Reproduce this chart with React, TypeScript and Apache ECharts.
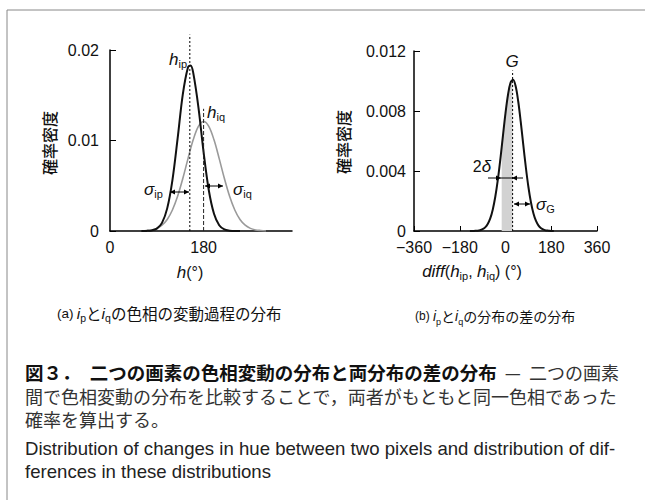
import React, { useEffect, useRef } from "react";
import * as echarts from "echarts";

// ---- data ----
const hueXP = [60, 70, 80, 90, 100, 110, 120, 130, 140, 150, 155, 160, 170, 180, 190, 200, 210, 220, 230, 240, 250];
const densityP = [0, 0.00001, 0.00006, 0.00026, 0.0009, 0.0025, 0.0056, 0.0102, 0.0151, 0.0181, 0.0183, 0.0175, 0.0137, 0.0087, 0.0045, 0.0019, 0.00064, 0.00017, 0.00004, 0, 0];
const hueXQ = [60, 70, 80, 90, 100, 110, 120, 130, 140, 150, 160, 170, 180, 190, 200, 210, 220, 230, 240, 250, 260, 270, 280, 290, 300];
const densityQ = [0, 0.00005, 0.00012, 0.00029, 0.00064, 0.00127, 0.00232, 0.00384, 0.0058, 0.008, 0.01007, 0.01156, 0.0121, 0.01156, 0.01007, 0.008, 0.0058, 0.00384, 0.00232, 0.00127, 0.00064, 0.00029, 0.00012, 0.00005, 0];
const diffX = [-140, -130, -120, -110, -100, -90, -80, -70, -60, -50, -40, -30, -20, -10, 0, 10, 20, 30, 40, 50, 60, 70, 80, 90, 100, 110, 120, 130, 140, 150, 160, 170, 180, 190];
const densityG = [0, 0, 0.00001, 0.00002, 0.00005, 0.00012, 0.00024, 0.00047, 0.00084, 0.00144, 0.0023, 0.00344, 0.00483, 0.00636, 0.00786, 0.0091, 0.0099, 0.01009, 0.00965, 0.00865, 0.00728, 0.00574, 0.00425, 0.00295, 0.00192, 0.00117, 0.00067, 0.00036, 0.00018, 0.00009, 0.00004, 0.00002, 0, 0];
const bandX = [-15, -10, 0, 10, 20, 28];
const bandY = [0.00558, 0.00636, 0.00786, 0.0091, 0.0099, 0.0101];
const peakP = 153.5;
const peakQ = 180;
const peakG = 28;
const peakLineTop = [0.0217, 0.0135, 0.0107];
const leftXTicks = [0, 180];
const leftYTicks = [0, 0.01, 0.02];
const rightXTicks = [-360, -180, 0, 180, 360];
const rightYTicks = [0, 0.004, 0.008, 0.012];

const FONT = '"Liberation Sans", Arial, sans-serif';
const CJK = '"Noto Sans CJK JP", sans-serif';

const zip = (xs: number[], ys: number[]) => xs.map((x, i) => [x, ys[i]]);

function hline(x1: number, x2: number, y: number) {
  return { type: "line", shape: { x1, y1: y, x2, y2: y }, style: { stroke: "#000", lineWidth: 1 }, z: 10 };
}
function head(tipX: number, y: number, dir: number) {
  return {
    type: "polygon",
    shape: { points: [[tipX, y], [tipX - dir * 5, y - 2.5], [tipX - dir * 5, y + 2.5]] },
    style: { fill: "#000" },
    z: 10,
  };
}
function rt(x: number, y: number, text: string, align = "left", cjkSize = 14) {
  return {
    type: "text",
    x,
    y,
    z: 10,
    style: {
      text,
      align,
      verticalAlign: "middle",
      fill: "#111",
      rich: {
        i: { fontStyle: "italic", fontSize: 17, fontFamily: FONT, lineHeight: 20, fill: "#111" },
        n: { fontSize: 16, fontFamily: FONT, lineHeight: 20, fill: "#111" },
        s: { fontSize: 11, fontFamily: FONT, lineHeight: 10, verticalAlign: "bottom", fill: "#111" },
        c: { fontSize: cjkSize, fontFamily: CJK, lineHeight: 20, fill: "#111" },
        p: { fontSize: cjkSize - 2, fontFamily: FONT, lineHeight: 20, fill: "#111" },
        ci: { fontSize: cjkSize, fontStyle: "italic", fontFamily: FONT, lineHeight: 20, fill: "#111" },
        cs: { fontSize: cjkSize - 5, fontFamily: FONT, lineHeight: 8, verticalAlign: "bottom", fill: "#111" },
      },
    },
  };
}
function bodyLine(y: number, text: string) {
  return {
    type: "text", x: 25, y,
    style: {
      text, verticalAlign: "middle",
      rich: {
        b: { fontSize: 18.5, lineHeight: 20, fontWeight: "bold", fontFamily: CJK, fill: "#111" },
        n: { fontSize: 18, lineHeight: 20, fontFamily: CJK, fill: "#333" },
      },
    },
  };
}

export default function App() {
  const ref = useRef<HTMLDivElement>(null);
  useEffect(() => {
    if (!ref.current) return;
    const chart = echarts.init(ref.current, undefined, { renderer: "svg" });
    const axisLine = { onZero: false, lineStyle: { color: "#000", width: 1.5 } };
    const lbl = { color: "#111", fontSize: 16, fontFamily: FONT };
    const curve = { type: "line", smooth: 0.35, symbol: "none" };
    chart.setOption({
      animation: false,
      backgroundColor: "#fff",
      grid: [
        { left: 110, top: 50, width: 182, height: 181 },
        { left: 414, top: 51, width: 183, height: 180 },
      ],
      xAxis: [
        {
          gridIndex: 0, type: "value", min: 0, max: 350, interval: 175,
          axisLine, axisTick: { show: false }, splitLine: { show: false },
          axisLabel: { ...lbl, margin: 8, customValues: leftXTicks },
        },
        {
          gridIndex: 1, type: "value", min: -360, max: 360, interval: 180,
          axisLine, splitLine: { show: false },
          axisTick: { show: true, inside: true, length: 5, lineStyle: { color: "#000", width: 1 } },
          axisLabel: { ...lbl, margin: 8, customValues: rightXTicks, formatter: (v: number) => String(v).replace("-", "−") },
        },
      ],
      yAxis: [
        {
          gridIndex: 0, type: "value", min: 0, max: 0.02, interval: 0.01,
          axisLine: { show: true, ...axisLine }, splitLine: { show: false },
          axisTick: { show: true, inside: true, length: 6, lineStyle: { color: "#000", width: 1 } },
          axisLabel: { ...lbl, margin: 11, customValues: leftYTicks, formatter: (v: number) => (v === 0 ? "0" : v.toFixed(2)) },
        },
        {
          gridIndex: 1, type: "value", min: 0, max: 0.012, interval: 0.004,
          axisLine: { show: true, ...axisLine }, splitLine: { show: false },
          axisTick: { show: true, inside: true, length: 6, lineStyle: { color: "#000", width: 1 } },
          axisLabel: { ...lbl, margin: 8, customValues: rightYTicks, formatter: (v: number) => (v === 0 ? "0" : v.toFixed(3)) },
        },
      ],
      series: [
        { ...curve, xAxisIndex: 0, yAxisIndex: 0, data: zip(hueXQ, densityQ), lineStyle: { color: "#9a9a9a", width: 1.6 } },
        { ...curve, xAxisIndex: 0, yAxisIndex: 0, data: zip(hueXP, densityP), lineStyle: { color: "#111", width: 2 } },
        {
          type: "line", xAxisIndex: 0, yAxisIndex: 0, data: [[peakP, 0], [peakP, peakLineTop[0]]],
          clip: false, symbol: "none", lineStyle: { color: "#000", width: 1, type: [2, 2] },
        },
        {
          type: "line", xAxisIndex: 0, yAxisIndex: 0, data: [[peakQ, 0], [peakQ, peakLineTop[1]]],
          clip: false, symbol: "none", lineStyle: { color: "#222", width: 1, type: [4, 2] },
        },
        {
          ...curve, xAxisIndex: 1, yAxisIndex: 1, data: zip(bandX, bandY),
          lineStyle: { width: 0, opacity: 0 }, areaStyle: { color: "#d2d2d2", opacity: 1 },
        },
        { ...curve, xAxisIndex: 1, yAxisIndex: 1, data: zip(diffX, densityG), lineStyle: { color: "#111", width: 2 } },
        {
          type: "line", xAxisIndex: 1, yAxisIndex: 1, data: [[peakG, 0], [peakG, peakLineTop[2]]],
          clip: false, symbol: "none", lineStyle: { color: "#000", width: 1, type: [2, 2] },
        },
      ],
      graphic: [
        { type: "rect", shape: { x: 7, y: 10, width: 800, height: 800 }, style: { fill: "none", stroke: "#888", lineWidth: 1 } },
        { type: "text", x: 49, y: 143, rotation: Math.PI / 2, style: { text: "確率密度", fontSize: 16, fontWeight: 500, fontFamily: CJK, fill: "#111", align: "center", verticalAlign: "middle" } },
        { type: "text", x: 343, y: 142, rotation: Math.PI / 2, style: { text: "確率密度", fontSize: 16, fontWeight: 500, fontFamily: CJK, fill: "#111", align: "center", verticalAlign: "middle" } },
        rt(169, 59, "{i|h}{s|ip}"),
        rt(207, 112, "{i|h}{s|iq}"),
        rt(144, 189, "{i|σ}{s|ip}"),
        rt(233, 189, "{i|σ}{s|iq}"),
        rt(512, 61, "{i|G}", "center"),
        rt(482, 166, "{n|2}{i|δ}", "center"),
        rt(536, 204, "{i|σ}{s|G}"),
        hline(170, 189, 192), head(170, 192, -1), head(189, 192, 1),
        hline(205, 223, 186), head(205, 186, -1), head(223, 186, 1),
        hline(488, 523, 178), head(501, 178, 1), head(512, 178, -1),
        hline(514, 530, 204), head(514, 204, -1), head(530, 204, 1),
        rt(190, 272, "{i|h}{n|(°)}", "center"),
        rt(472, 271, "{i|diff}{n|(}{i|h}{s|ip}{n|, }{i|h}{s|iq}{n|) (°)}", "center"),
        rt(57, 313, "{p|(a)} {ci|i}{cs|p}{c|と}{ci|i}{cs|q}{c|の色相の変動過程の分布}", "left", 15.5),
        rt(415, 316, "{p|(b)} {ci|i}{cs|p}{c|と}{ci|i}{cs|q}{c|の分布の差の分布}", "left", 14),
        bodyLine(372, "{b|図３．　二つの画素の色相変動の分布と両分布の差の分布}{n|  —  二つの画素}"),
        bodyLine(396, "{n|間で色相変動の分布を比較することで，両者がもともと同一色相であった}"),
        bodyLine(419, "{n|確率を算出する。}"),
        { type: "text", x: 25, y: 448, style: { text: "Distribution of changes in hue between two pixels and distribution of dif-", fontSize: 18.6, lineHeight: 20, fontFamily: FONT, fill: "#222", verticalAlign: "middle" } },
        { type: "text", x: 25, y: 471, style: { text: "ferences in these distributions", fontSize: 18.6, lineHeight: 20, fontFamily: FONT, fill: "#222", verticalAlign: "middle" } },
      ],
    });
    return () => chart.dispose();
  }, []);
  return <div ref={ref} style={{ position: "fixed", left: 0, top: 0, width: 645, height: 500 }} />;
}
